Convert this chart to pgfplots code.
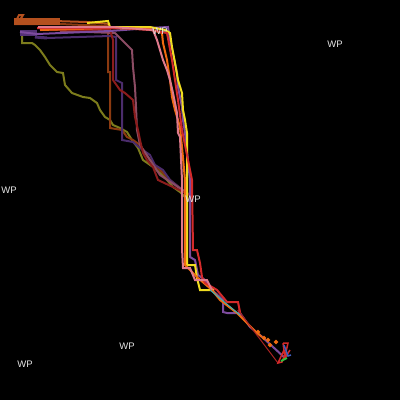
\documentclass[border=0pt]{standalone}
\usepackage{pgfplots}
\pgfplotsset{compat=1.18}
\usepackage{fontspec}
\setmainfont{Liberation Sans}

\definecolor{cbrorange}{HTML}{B4501E}
\definecolor{cyellow}{HTML}{F0DC20}
\definecolor{corange}{HTML}{F06A10}
\definecolor{cpurple}{HTML}{7D4B9E}
\definecolor{cred}{HTML}{D42A2A}
\definecolor{cpink}{HTML}{E07A8C}
\definecolor{colive}{HTML}{7C7C1C}
\definecolor{cbrown}{HTML}{8B3A10}
\definecolor{cdpurple}{HTML}{4B2C6C}
\definecolor{cdred}{HTML}{8C1C1C}
\definecolor{cmauve}{HTML}{8C4C64}
\definecolor{cteal}{HTML}{40B0B0}
\definecolor{cgreen}{HTML}{30C040}
\definecolor{cblue}{HTML}{4060C0}
\definecolor{wp}{HTML}{E6E6E6}

\tikzset{wplabel/.style={font=\fontsize{9.5}{10}\selectfont, text=wp, inner sep=0pt}}

\begin{document}
\begin{tikzpicture}
\begin{axis}[
  scale only axis, width=400pt, height=400pt,
  xmin=0, xmax=400, ymin=0, ymax=400, y dir=reverse,
  hide axis,
  axis background/.style={fill=black},
  every axis plot/.append style={no marks, line width=2pt, line join=miter},
]
% slow group
\addplot[colive] coordinates {(22,33) (22,43) (32,43) (35,45) (40,50) (45,57) (50,65) (57,72) (63,73) (65,85) (72,93) (83,97) (90,98) (97,103) (100,110) (105,117) (110,120) (113,125) (120,128) (127,132) (132,140) (138,148) (143,160) (153,167) (160,173) (167,180) (173,187) (180,192) (185,197)};
\addplot[cbrown] coordinates {(14,24) (60,24) (108,26) (108,72) (110,72) (110,128) (122,130) (127,137) (133,140) (140,145) (150,160) (160,170) (170,180) (180,188) (188,195)};
\addplot[cdpurple] coordinates {(35,37) (47,38) (110,36) (116,37) (116,80) (122,83) (122,140) (133,142) (140,148) (150,155) (155,165) (163,170) (170,180) (180,188) (190,195)};
\addplot[cmauve] coordinates {(60,31) (115,33) (132,50) (133,67) (135,87) (136,107) (137,130) (140,145) (150,160) (160,175) (175,185) (185,192)};
\addplot[cdred] coordinates {(40,30) (110,30) (113,40) (113,80) (120,90) (125,93) (133,100) (135,117) (138,130) (140,140) (143,153) (147,160) (153,167) (158,180) (175,188) (190,195)};
% band at the start
\addplot[cbrorange, line width=7pt] coordinates {(14,21) (60,21)};
\addplot[cbrorange] coordinates {(17,19) (19,15) (23,15) (20,20) (87,22) (110,24)};
\addplot[cdpurple!80!cpurple, line width=6pt] coordinates {(20,33) (37,33)};
\addplot[cdpurple, line width=3pt] coordinates {(35,37) (47,38)};
% fast group
\addplot[cpurple] coordinates {(20,32) (37,34) (110,31) (150,28) (168,27) (170,40) (173,53) (177,73) (178,87) (182,107) (183,120) (185,133) (190,180) (190,257) (195,260) (198,275) (205,280) (212,290) (223,300) (223,312) (227,313) (240,313) (250,327) (260,335) (285,358)};
\addplot[cyellow] coordinates {(87,23) (108,21) (110,27) (150,27) (165,30) (170,33) (172,47) (175,63) (178,80) (182,93) (183,110) (185,120) (187,133) (187,265) (195,265) (197,278) (200,290) (213,290) (213,287)};
\addplot[corange] coordinates {(40,30) (110,28) (150,29) (162,33) (163,43) (167,60) (170,80) (172,97) (175,110) (180,127) (182,147) (185,180) (185,265) (190,270) (198,278) (212,290) (220,300) (237,313) (257,333) (262,337)};
\addplot[cred] coordinates {(37,28) (120,28) (150,30) (167,33) (172,60) (178,100) (182,130) (192,180) (193,250) (197,250) (200,263) (202,277) (205,283) (212,287) (217,290) (227,302) (238,302) (240,312) (238,310)};
\addplot[cpink] coordinates {(38,27) (112,27) (153,30) (157,40) (160,50) (163,60) (167,70) (170,80) (173,93) (175,103) (177,113) (178,133) (180,137) (182,180) (182,248) (183,268) (190,268) (195,280) (207,280) (212,290)};
% end of the tracks
\addplot[cdred!60!cred, line width=1pt] coordinates {(238,310) (278,363)};
\addplot[cteal, line width=1pt] coordinates {(210,290) (240,315)};
\addplot[only marks, mark=square*, mark size=1pt, corange] coordinates {(258,332) (264,338) (270,345) (276,342) (268,340)};
\addplot[cred, line width=1.5pt] coordinates {(283,343) (288,343) (286,352) (282,362) (278,363) (284,350) (283,343) (285,358) (290,350)};
\addplot[cblue, line width=1.5pt] coordinates {(284,345) (288,356) (291,355)};
\addplot[cgreen, line width=2pt] coordinates {(281,361) (287,358)};

\node[wplabel] at (axis cs:160,31) {WP};
\node[wplabel] at (axis cs:335,44) {WP};
\node[wplabel] at (axis cs:9,190) {WP};
\node[wplabel] at (axis cs:193,199) {WP};
\node[wplabel] at (axis cs:127,346) {WP};
\node[wplabel] at (axis cs:25,364) {WP};
\end{axis}
\end{tikzpicture}
\end{document}
